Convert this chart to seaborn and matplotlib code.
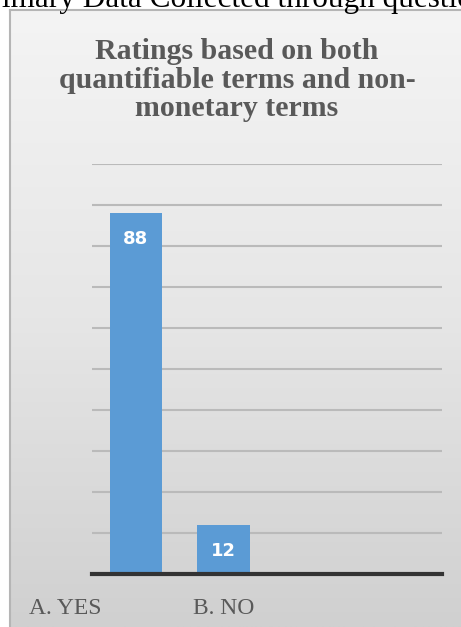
import numpy as np
import pandas as pd
import matplotlib
matplotlib.use("Agg")
import matplotlib.pyplot as plt
import matplotlib.transforms as mtrans
from matplotlib.colors import LinearSegmentedColormap
import seaborn as sns

categories = ["A. YES", "B. NO"]
values = [88, 12]
title = "Ratings based on both\nquantifiable terms and non-\nmonetary terms"
caption = "Primary Data Collected through questionnaire"

sns.set_theme(style="white")
plt.rcParams['font.family'] = ['Liberation Serif', 'DejaVu Sans']

W, H = 461, 627
fig = plt.figure(figsize=(W / 100, H / 100), dpi=100)
fig.patch.set_facecolor("white")

# chart-area background with gradient
bg = fig.add_axes([10 / W, 0, 1 - 10 / W, (H - 10) / H])
grad = np.linspace(0, 1, 256).reshape(-1, 1)
cmap = LinearSegmentedColormap.from_list("g", ["#f4f4f4", "#e6e6e6", "#d0d0d0"])
bg.imshow(grad, aspect="auto", cmap=cmap, extent=[0, 1, 0, 1], origin="upper")
bg.set_xlim(0, 1)
bg.set_ylim(0, 1)
bg.set_xticks([])
bg.set_yticks([])
for s in ["right", "bottom"]:
    bg.spines[s].set_visible(False)
for s in ["left", "top"]:
    bg.spines[s].set_color("#b5b5b5")
    bg.spines[s].set_linewidth(1.5)

# top caption (partially cut, as in the source)
fig.text(-26 / W, 1 - 7 / H, caption, ha="left", va="baseline",
         fontsize=22.5, color="black", family=["Liberation Serif"])

# title
fig.text(237 / W, 1 - 80 / H, title, ha="center", va="center",
         fontsize=21.5, fontweight="bold", color="#595959",
         linespacing=1.06, family=["Liberation Serif"])

ax = fig.add_axes([92 / W, (H - 574) / H, 350 / W, 410 / H])
ax.set_facecolor("none")
df = pd.DataFrame({"cat": categories, "val": values})
sns.barplot(data=df, x="cat", y="val", color="#5b9bd5", saturation=1,
            width=0.6, ax=ax, zorder=3, linewidth=0, edgecolor="none")
ax.set_xlim(-0.5, 3.5)
ax.set_ylim(0, 100)
ax.set_yticks(np.arange(0, 101, 10))
ax.yaxis.grid(True, color="#bababa", linewidth=1.5, zorder=0)
ax.set_axisbelow(True)
ax.tick_params(axis="y", left=False, labelleft=False)
ax.tick_params(axis="x", bottom=False, pad=11, labelsize=17, labelcolor="#595959")
ax.set_xlabel("")
ax.set_ylabel("")
for s in ["left", "right", "top"]:
    ax.spines[s].set_visible(False)
ax.spines["bottom"].set_color("#333333")
ax.spines["bottom"].set_linewidth(3)
ax.spines["bottom"].set_zorder(4)

labels = ax.get_xticklabels()
labels[0].set_transform(labels[0].get_transform() +
                        mtrans.ScaledTranslation(-0.71, 0, fig.dpi_scale_trans))

for c in ax.containers:
    ax.bar_label(c, labels=[str(v) for v in values], padding=-25,
                 color="white", fontweight="bold", fontsize=13,
                 family=["DejaVu Sans"], zorder=5)

fig.savefig("out.png", dpi=100)
